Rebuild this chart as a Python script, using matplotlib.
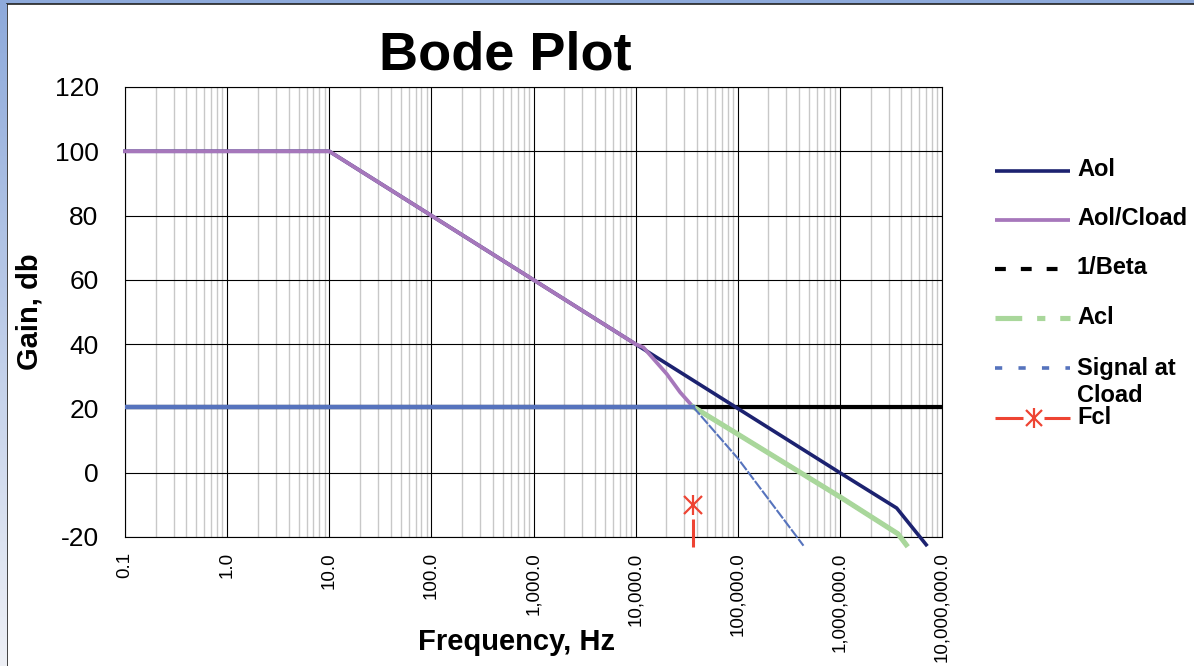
import matplotlib
matplotlib.use('Agg')
import matplotlib.pyplot as plt
from matplotlib.lines import Line2D
from matplotlib.patches import Rectangle
from matplotlib.ticker import FixedLocator, FuncFormatter, NullFormatter
from matplotlib.colors import LinearSegmentedColormap
import numpy as np

plt.rcParams['font.family'] = ['Liberation Sans', 'DejaVu Sans']
plt.rcParams['axes.unicode_minus'] = False

W, H = 1194, 666

# ---------------- data ----------------
aol_f = [0.1, 10, 1e6, 3.6e6, 7.0e6]
aol_db = [100, 100, 0, -11, -22.4]

aolc_f = [0.1, 10, 1.0e4, 1.19e4, 2.02e4, 2.73e4, 3.65e4, 1e5, 1e6, 3.7e6, 4.46e6]
aolc_db = [100, 100, 40, 39, 30.7, 25, 20.5, 12, -7.5, -19, -22.4]

beta_f = [0.1, 1e7]
beta_db = [20.5, 20.5]

acl_f = [3.65e4, 1e5, 1e6, 3.7e6, 4.46e6]
acl_db = [20.5, 12, -7.5, -19, -22.4]

sig_f = [0.1, 3.65e4, 1e5, 4.4e5]
sig_db = [20.5, 20.5, 4.5, -22.7]

fcl_f = [3.65e4]
fcl_marker_db = [-10]
fcl_line_db = [-14.5, -23]

x_ticks = [0.1, 1, 10, 100, 1e3, 1e4, 1e5, 1e6, 1e7]
y_ticks = [-20, 0, 20, 40, 60, 80, 100, 120]

legend_labels = ['Aol', 'Aol/Cload', '1/Beta', 'Acl', 'Signal at\nCload', 'Fcl']

# ---------------- colours ----------------
c_aol = '#1c2270'
c_aolc = '#a677bb'
c_beta = '#000000'
c_acl = '#a9d79b'
c_sig = '#5673bd'
c_fcl = '#ee4433'

fig = plt.figure(figsize=(W / 100, H / 100), dpi=100)
fig.patch.set_facecolor('#8eaadb')

# window-frame look: gradient strip on the left, white panel with dark edge
bg_left = fig.add_axes([0, 0, 7 / W, 1 - 4 / H])
grad = np.linspace(0, 1, 256).reshape(-1, 1)
cm = LinearSegmentedColormap.from_list('g', ['#eef0f6', '#8eaadb'])
bg_left.imshow(grad, aspect='auto', cmap=cm, origin='lower')
bg_left.axis('off')
fig.add_artist(Rectangle((7 / W, -0.01), 1.0, 1 - 4 / H + 0.01, transform=fig.transFigure,
                         facecolor='white', edgecolor='#222222', linewidth=1.2, zorder=0))

ax = fig.add_axes([125 / W, 129 / H, (942 - 125) / W, (537 - 87) / H])
ax.set_facecolor('white')
ax.set_xscale('log')
ax.set_xlim(0.1, 1e7)
ax.set_ylim(-20, 120)

# grid
minor = []
for d in x_ticks[:-1]:
    for k in range(2, 10):
        minor.append(d * k)
ax.xaxis.set_major_locator(FixedLocator(x_ticks))
ax.xaxis.set_minor_locator(FixedLocator(minor))
ax.xaxis.set_minor_formatter(NullFormatter())
ax.xaxis.set_major_formatter(FuncFormatter(lambda v, p: f"{v:,.1f}"))
ax.yaxis.set_major_locator(FixedLocator(y_ticks))
ax.grid(which='minor', axis='x', color='#c8c8c8', linewidth=1.0, zorder=0)
ax.grid(which='major', axis='both', color='#000000', linewidth=0.8, zorder=0)
ax.set_axisbelow(True)
for s in ax.spines.values():
    s.set_color('#000000')
    s.set_linewidth(0.8)

ax.tick_params(axis='both', which='both', length=0)
ax.tick_params(axis='y', labelsize=19, pad=19)
ax.tick_params(axis='x', labelsize=13.5, pad=11, labelrotation=90)
for lab in ax.get_xticklabels():
    lab.set_va('top')

# curves
ax.plot(beta_f, beta_db, color=c_beta, lw=3.0, zorder=2, solid_capstyle='butt')
ax.plot(aol_f, aol_db, color=c_aol, lw=2.6, zorder=3, clip_on=False)
ax.plot(aolc_f, aolc_db, color=c_aolc, lw=2.7, zorder=4, clip_on=False)
ax.plot(acl_f, acl_db, color=c_acl, lw=3.7, zorder=5, clip_on=False)
ax.plot(sig_f[:2], sig_db[:2], color=c_sig, lw=3.2, zorder=6)
ax.plot(sig_f[1:], sig_db[1:], color=c_sig, lw=1.5, zorder=6, clip_on=False,
        dashes=(5, 0.8))
ax.plot(fcl_f * 2, fcl_line_db, color=c_fcl, lw=2.2, zorder=7, clip_on=False,
        solid_capstyle='butt')
ax.plot(fcl_f, fcl_marker_db, linestyle='none', marker='x', ms=13, mew=1.6,
        color=c_fcl, zorder=7, clip_on=False)
ax.plot(fcl_f, fcl_marker_db, linestyle='none', marker='|', ms=15, mew=1.6,
        color=c_fcl, zorder=7, clip_on=False)

# titles / labels
fig.text(505 / W, 1 - 70 / H, 'Bode Plot', ha='center', va='baseline',
         fontsize=39, fontweight='bold')
fig.text(517 / W, 1 - 650 / H, 'Frequency, Hz', ha='center', va='baseline',
         fontsize=21, fontweight='bold')
fig.text(30 / W, 1 - 312 / H, 'Gain, db', ha='center', va='center', rotation=90,
         fontsize=21, fontweight='bold')

# ---------------- legend (manual layout) ----------------
def fx(px):
    return px / W

def fy(py):
    return 1 - py / H

x0, x1, xt = 995, 1070, 1077
leg_y = [171, 220, 269, 318, 368, 418]
styles = [
    dict(color=c_aol, lw=2.6),
    dict(color=c_aolc, lw=2.7),
    dict(color=c_beta, lw=3.0, dashes=(2.6, 3.6)),
    dict(color=c_acl, lw=3.7, dashes=(5.2, 2.9, 1.6, 2.9)),
    dict(color=c_sig, lw=2.6, dashes=(2.0, 4.5)),
]
for y, st in zip(leg_y[:5], styles):
    fig.add_artist(Line2D([fx(x0), fx(x1)], [fy(y), fy(y)], transform=fig.transFigure,
                          solid_capstyle='butt', dash_capstyle='butt', **st))
# Fcl legend: line - marker - line
y = leg_y[5]
fig.add_artist(Line2D([fx(x0), fx(1023)], [fy(y), fy(y)], transform=fig.transFigure,
                      color=c_fcl, lw=2.2, solid_capstyle='butt'))
fig.add_artist(Line2D([fx(1044), fx(x1)], [fy(y), fy(y)], transform=fig.transFigure,
                      color=c_fcl, lw=2.2, solid_capstyle='butt'))
fig.add_artist(Line2D([fx(1033.5)], [fy(y)], transform=fig.transFigure, linestyle='none',
                      marker='x', ms=12, mew=1.6, color=c_fcl))
fig.add_artist(Line2D([fx(1033.5)], [fy(y)], transform=fig.transFigure, linestyle='none',
                      marker='|', ms=14, mew=1.6, color=c_fcl))

text_y = [169, 218, 268, 318, 368, 418]
for lab, ty in zip(legend_labels, text_y):
    if '\n' in lab:
        a, b = lab.split('\n')
        fig.text(fx(xt), fy(ty), a, ha='left', va='center', fontsize=17, fontweight='bold')
        fig.text(fx(xt), fy(ty + 28), b, ha='left', va='center', fontsize=17, fontweight='bold')
    else:
        fig.text(fx(xt), fy(ty), lab, ha='left', va='center', fontsize=17, fontweight='bold')

fig.savefig('out.png', dpi=100, facecolor=fig.get_facecolor())
